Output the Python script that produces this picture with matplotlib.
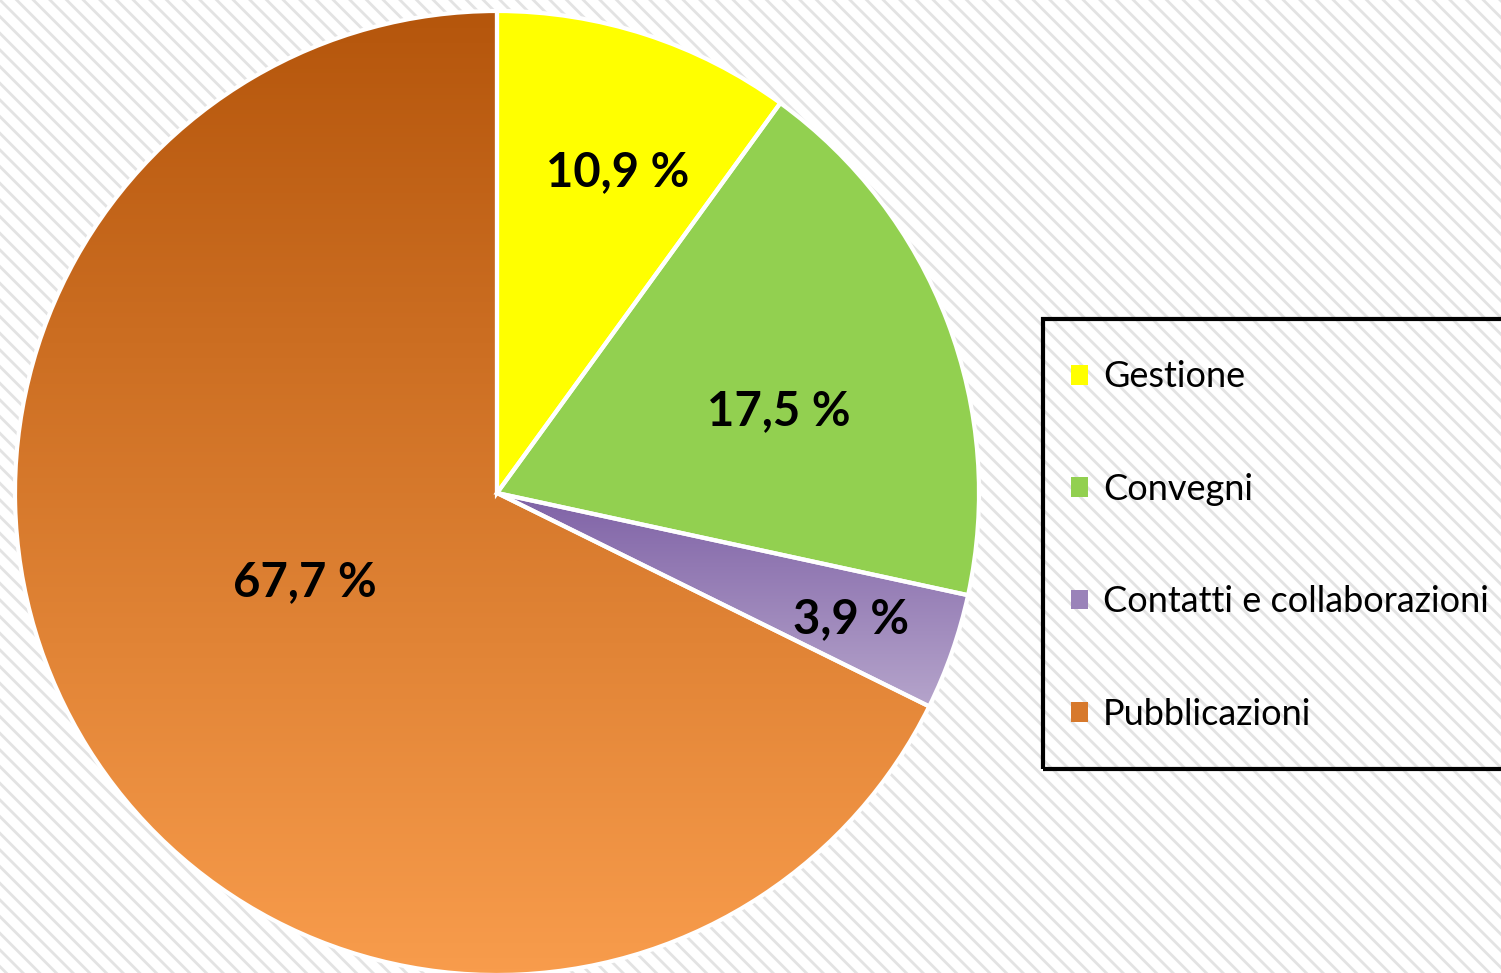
import numpy as np
import matplotlib
matplotlib.use("Agg")
import matplotlib.pyplot as plt
from matplotlib.patches import Rectangle, Patch
from matplotlib.colors import LinearSegmentedColormap

categories = ["Gestione", "Convegni", "Contatti e collaborazioni", "Pubblicazioni"]
# slice sizes as drawn in the picture (the yellow slice is ~36 deg)
values = [10.0, 18.4, 3.9, 67.7]
labels = ["10,9 %", "17,5 %", "3,9 %", "67,7 %"]

colors = ["#FFFF00", "#92D050", "#9A84B8", "#E0823C"]
# vertical gradients (top colour, bottom colour), None for flat slices
gradients = [None, None, ("#7F62A6", "#B5A4CB"), ("#B5560C", "#F89C4C")]
# label placement (polar, in pie radii / degrees)
label_dist = [0.711, 0.609, 0.78, 0.439]
label_ang = [69.3, 16.2, -19.6, -155.1]

plt.rcParams["font.family"] = ["Lato", "DejaVu Sans"]
plt.rcParams["hatch.linewidth"] = 2.0
plt.rcParams["hatch.color"] = "#e3e3e3"

W, H = 1501, 973
fig = plt.figure(figsize=(W / 100, H / 100), dpi=100)
fig.patch.set_facecolor("white")

# diagonal stripe background
bg = Rectangle((0, 0), 1, 1, transform=fig.transFigure, facecolor="white",
               edgecolor="#e3e3e3", hatch="\\\\", lw=0, zorder=-10)
fig.patches.append(bg)

cx, cy, R = 497, 493, 482
ax = fig.add_axes([(cx - R) / W, (H - cy - R) / H, 2 * R / W, 2 * R / H])
ax.set_aspect("equal")
ax.axis("off")
ax.patch.set_alpha(0)

wedges, _ = ax.pie(values, colors=colors, startangle=90, counterclock=False,
                   radius=1, wedgeprops=dict(linewidth=0))

for w, g in zip(wedges, gradients):
    if g is None:
        continue
    ext = w.get_path().get_extents()
    cmap = LinearSegmentedColormap.from_list("g", [g[0], g[1]])
    grad = np.linspace(0, 1, 256).reshape(-1, 1)
    im = ax.imshow(grad, cmap=cmap, aspect="auto", interpolation="bilinear",
                   extent=[ext.x0, ext.x1, ext.y0, ext.y1], origin="upper", zorder=2)
    im.set_clip_path(w)

# white separators on top
ax.pie(values, startangle=90, counterclock=False, radius=1,
       wedgeprops=dict(fill=False, edgecolor="white", linewidth=3.0, zorder=3))
ax.set_xlim(-1, 1)
ax.set_ylim(-1, 1)

# percentage labels
for lab, d, a in zip(labels, label_dist, label_ang):
    t = np.deg2rad(a)
    ax.text(d * np.cos(t), d * np.sin(t), lab, ha="center", va="center",
            fontsize=34, fontweight="bold", color="black", zorder=5)

# legend box (runs off the right edge like the original)
box = Rectangle((1043 / W, 1 - 769 / H), (1530 - 1043) / W, (769 - 319) / H,
                transform=fig.transFigure, facecolor="none", edgecolor="black",
                lw=3, zorder=5)
fig.patches.append(box)

def mid(g, c):
    if g is None:
        return c
    return LinearSegmentedColormap.from_list("m", [g[0], g[1]])(0.5)

handles = [Patch(facecolor=mid(g, c), edgecolor="none") for c, g in zip(colors, gradients)]
fig.legend(handles, categories, loc="upper left",
           bbox_to_anchor=(1057 / W, 1 - 346 / H), frameon=False,
           fontsize=26, handlelength=0.47, handleheight=0.47,
           handletextpad=0.4, labelspacing=2.2, borderaxespad=0, borderpad=0.4)

fig.savefig("out.png", dpi=100)
